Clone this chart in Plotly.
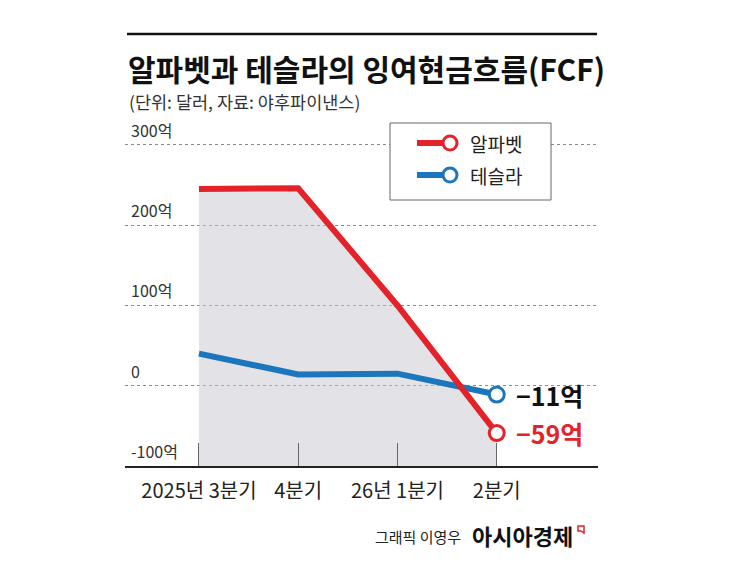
import plotly.graph_objects as go

# FCF, 단위: 억 달러
quarters = ["2025년 3분기", "4분기", "26년 1분기", "2분기"]
alphabet = [245, 246, 100, -59]
tesla = [40, 14, 15, -11]
y_ticks = [-100, 0, 100, 200, 300]
y_tick_labels = ["-100억", "0", "100억", "200억", "300억"]
end_labels = ["−59억", "−11억"]

W, H = 745, 583
OFF = 8                            # page body margin
L, R, T, B = 125, 598, 120, 466   # plot area in screen pixels
KR = "Noto Sans CJK KR"
RED = "#e3222a"
BLUE = "#1b76bd"


def px(x):
    return (x - L) / (R - L)


def py(y):
    return (B - y) / (B - T)


fig = go.Figure()

# baseline for the gray area
fig.add_trace(go.Scatter(x=quarters, y=[y_ticks[0]] * len(quarters), mode="lines",
                         line=dict(width=0), hoverinfo="skip", showlegend=False))
fig.add_trace(go.Scatter(x=quarters, y=alphabet, mode="lines", line=dict(width=0),
                         fill="tonexty", fillcolor="rgba(200,200,208,0.5)",
                         hoverinfo="skip", showlegend=False))

for name, vals, color in [("테슬라", tesla, BLUE), ("알파벳", alphabet, RED)]:
    fig.add_trace(go.Scatter(x=quarters, y=vals, mode="lines", name=name,
                             line=dict(color=color, width=6), showlegend=False))
    fig.add_trace(go.Scatter(x=quarters[-1:], y=vals[-1:], mode="markers",
                             marker=dict(size=15, color="white", symbol="circle",
                                         line=dict(color=color, width=3)),
                             showlegend=False))

# y labels sitting above the gridlines
for v, t in zip(y_ticks, y_tick_labels):
    fig.add_annotation(x=px(129), xref="paper", y=v, yref="y", text=t, showarrow=False,
                       xanchor="left", yanchor="bottom", yshift=1,
                       font=dict(family=KR, size=16, color="#333"))

# end values
for v, t, c in [(alphabet[-1], end_labels[0], RED), (tesla[-1], end_labels[1], "#111")]:
    fig.add_annotation(x=quarters[-1], y=v, text="<b>" + t + "</b>", showarrow=False,
                       xanchor="left", xshift=17,
                       font=dict(family=KR, size=25, color=c))

# title, subtitle, credit
fig.add_annotation(x=px(126), xref="paper", y=py(68), yref="paper",
                   text="<b>알파벳과 테슬라의 잉여현금흐름(FCF)</b>", showarrow=False,
                   xanchor="left", yanchor="middle", font=dict(family=KR, size=30, color="#111"))
fig.add_annotation(x=px(127), xref="paper", y=py(102), yref="paper",
                   text="(단위: 달러, 자료: 야후파이낸스)", showarrow=False,
                   xanchor="left", yanchor="middle", font=dict(family=KR, size=17.5, color="#333"))
fig.add_annotation(x=px(463), xref="paper", y=py(536), yref="paper",
                   text="그래픽 이영우", showarrow=False,
                   xanchor="right", yanchor="middle", font=dict(family=KR, size=15, color="#222"))
fig.add_annotation(x=px(575), xref="paper", y=py(535), yref="paper",
                   text="<b>아시아경제</b>", showarrow=False,
                   xanchor="right", yanchor="middle", font=dict(family=KR, size=22, color="#111"))

# legend box
fig.add_shape(type="rect", xref="paper", yref="paper", x0=px(390), x1=px(551),
              y0=py(200), y1=py(123), line=dict(color="#666", width=1), fillcolor="white")
for yy, name, color in [(143, "알파벳", RED), (175, "테슬라", BLUE)]:
    fig.add_shape(type="line", xref="paper", yref="paper", x0=px(417), x1=px(444),
                  y0=py(yy), y1=py(yy), line=dict(color=color, width=6))
    fig.add_shape(type="circle", xref="paper", yref="paper", x0=px(443), x1=px(457),
                  y0=py(yy + 7), y1=py(yy - 7), line=dict(color=color, width=3),
                  fillcolor="white")
    fig.add_annotation(x=px(468), xref="paper", y=py(yy), yref="paper", text=name,
                       showarrow=False, xanchor="left", yanchor="middle",
                       font=dict(family=KR, size=19, color="#222"))

# top rule and red logo mark
fig.add_shape(type="line", xref="paper", yref="paper", x0=px(127), x1=px(597),
              y0=py(34), y1=py(34), line=dict(color="#111", width=2.5))
fig.add_shape(type="path", xref="paper", yref="paper",
              path=f"M {px(578)} {py(526)} L {px(584)} {py(526)} L {px(584)} {py(533)} "
                   f"L {px(581)} {py(531)} L {px(578)} {py(531)} Z",
              line=dict(color=RED, width=1.5), fillcolor="white")

fig.update_layout(
    width=W, height=H,
    margin=dict(l=L - OFF, r=W - R + OFF, t=T - OFF, b=H - B + OFF),
    plot_bgcolor="white", paper_bgcolor="white",
    font=dict(family=KR),
    xaxis=dict(type="category", range=[-0.745, 4.02], showgrid=False,
               showline=True, linecolor="#222", linewidth=2,
               ticks="inside", ticklen=23, tickcolor="#666", tickwidth=1,
               ticklabelstandoff=6,
               tickfont=dict(family=KR, size=20, color="#222")),
    yaxis=dict(range=[-100, 331], tickvals=y_ticks, showticklabels=False,
               showgrid=True, gridcolor="#8a8a8a", griddash="dot", gridwidth=1,
               zeroline=False, showline=False),
)

fig.write_html("out.html")
